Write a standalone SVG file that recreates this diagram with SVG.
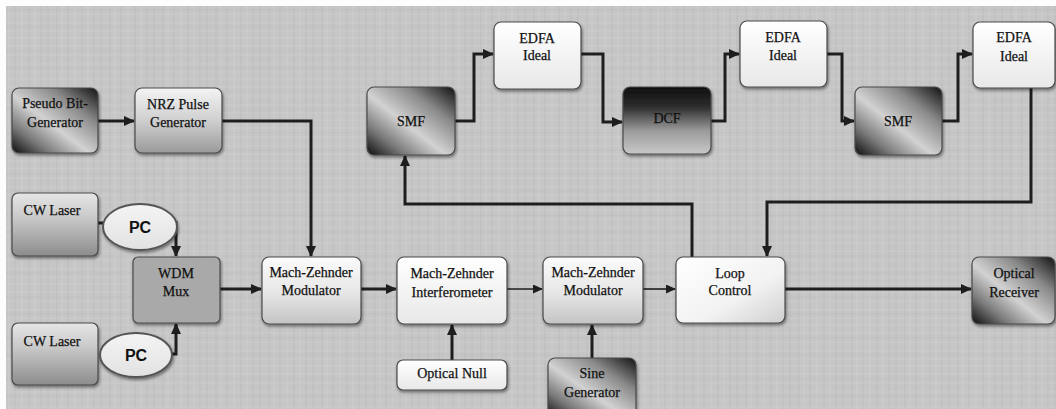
<svg xmlns="http://www.w3.org/2000/svg" width="1056" height="409" viewBox="0 0 1056 409">
<style>
.box{stroke:#4a4a4a;stroke-width:1.2}
.t{font-family:"Liberation Serif","DejaVu Serif","Times New Roman",serif;font-size:14px;fill:#111;stroke:#111;stroke-width:0.25;text-anchor:middle}
.pc{font-family:"Liberation Sans",Arial,sans-serif;font-size:16px;font-weight:bold;fill:#111;text-anchor:middle}
.c{fill:none;stroke:#1e1e1e;stroke-width:3;stroke-linejoin:miter}
.thin{stroke-width:1.6}
</style>
<defs>
<pattern id="tex" width="53" height="41" patternUnits="userSpaceOnUse">
<rect width="53" height="41" fill="#c6c6c6"/>
<path d="M4,0V41M15,0V41M29,0V41M41,0V41M48,0V41" stroke="#b6b6b6" stroke-width="1.2" opacity="0.55"/>
<path d="M9,0V41M22,0V41M35,0V41" stroke="#d2d2d2" stroke-width="1" opacity="0.6"/>
<path d="M0,5H53M0,14H53M0,23H53M0,31H53M0,38H53" stroke="#d0d0d0" stroke-width="1" opacity="0.55"/>
<path d="M0,10H53M0,27H53" stroke="#b8b8b8" stroke-width="1" opacity="0.4"/>
</pattern>
<linearGradient id="gDiag" x1="1" y1="0" x2="0" y2="1">
<stop offset="0" stop-color="#111"/><stop offset="0.28" stop-color="#8a8a8a"/><stop offset="0.55" stop-color="#d2d2d2"/><stop offset="0.78" stop-color="#7a7a7a"/><stop offset="1" stop-color="#0c0c0c"/>
</linearGradient>
<linearGradient id="gDCF" x1="0" y1="0" x2="0" y2="1">
<stop offset="0" stop-color="#0e0e0e"/><stop offset="0.3" stop-color="#2e2e2e"/><stop offset="0.65" stop-color="#9a9a9a"/><stop offset="1" stop-color="#c8c8c8"/>
</linearGradient>
<linearGradient id="gCW" x1="0" y1="0" x2="0" y2="1">
<stop offset="0" stop-color="#e6e6e6"/><stop offset="0.4" stop-color="#c8c8c8"/><stop offset="1" stop-color="#8c8c8c"/>
</linearGradient>
<linearGradient id="gNRZ" x1="0" y1="0" x2="0" y2="1">
<stop offset="0" stop-color="#f4f4f4"/><stop offset="0.5" stop-color="#cfcfcf"/><stop offset="1" stop-color="#9a9a9a"/>
</linearGradient>
<linearGradient id="gMZ" x1="0" y1="0" x2="0" y2="1">
<stop offset="0" stop-color="#fbfbfb"/><stop offset="0.55" stop-color="#e6e6e6"/><stop offset="1" stop-color="#c4c4c4"/>
</linearGradient>
<linearGradient id="gW" x1="0" y1="0" x2="0" y2="1">
<stop offset="0" stop-color="#ffffff"/><stop offset="1" stop-color="#e8e8e8"/>
</linearGradient>
<linearGradient id="gLoop" x1="0" y1="0" x2="1" y2="1">
<stop offset="0" stop-color="#ffffff"/><stop offset="0.6" stop-color="#f2f2f2"/><stop offset="1" stop-color="#cfcfcf"/>
</linearGradient>
<linearGradient id="gPC" x1="0" y1="0" x2="0" y2="1">
<stop offset="0" stop-color="#f4f4f4"/><stop offset="1" stop-color="#e2e2e2"/>
</linearGradient>
<filter id="sh" x="-10%" y="-10%" width="130%" height="140%">
<feDropShadow dx="1" dy="2" stdDeviation="1.5" flood-color="#000" flood-opacity="0.45"/>
</filter>
<marker id="ah" markerUnits="userSpaceOnUse" markerWidth="11" markerHeight="10" refX="10" refY="5" orient="auto">
<path d="M0,0L11,5L0,10z" fill="#1e1e1e"/>
</marker>
<marker id="ahs" markerUnits="userSpaceOnUse" markerWidth="10" markerHeight="9" refX="9" refY="4.5" orient="auto">
<path d="M0,0L10,4.5L0,9z" fill="#1e1e1e"/>
</marker>
</defs>
<rect width="1056" height="409" fill="url(#tex)"/>
<rect width="1056" height="6" fill="#fdfdfd"/>
<rect width="6" height="409" fill="#fdfdfd"/>

<g id="connectors">
<path class="c" d="M98,121H134" marker-end="url(#ah)"/>
<path class="c" d="M222,121H311V256" marker-end="url(#ah)"/>
<path class="c" d="M98,223H105"/>
<path class="c" d="M176,221V256" marker-end="url(#ah)"/>
<path class="c" d="M172,354H176V324" marker-end="url(#ah)"/>
<path class="c" d="M220,289H261" marker-end="url(#ah)"/>
<path class="c" d="M361,289H396" marker-end="url(#ah)"/>
<path class="c thin" d="M507,289H542" marker-end="url(#ahs)"/>
<path class="c" d="M452,360V325" marker-end="url(#ah)"/>
<path class="c" d="M592,358V325" marker-end="url(#ah)"/>
<path class="c thin" d="M643,289H675" marker-end="url(#ahs)"/>
<path class="c" d="M785,289H971" marker-end="url(#ah)"/>
<path class="c" d="M692,257V204H405V156" marker-end="url(#ah)"/>
<path class="c" d="M1031,88V202H767V256" marker-end="url(#ah)"/>
<path class="c" d="M455,121H474V54H493" marker-end="url(#ah)"/>
<path class="c" d="M581,54H603V122H622" marker-end="url(#ah)"/>
<path class="c" d="M711,121H725V54H739" marker-end="url(#ah)"/>
<path class="c" d="M827,54H842V121H854" marker-end="url(#ah)"/>
<path class="c" d="M942,121H958V54H972" marker-end="url(#ah)"/>
</g>

<g id="pseudo"><rect class="box" x="12" y="88" width="86" height="65" rx="7" fill="url(#gDiag)" filter="url(#sh)"/><text class="t" x="55" y="108">Pseudo Bit-</text><text class="t" x="55" y="127">Generator</text></g>
<g id="nrz"><rect class="box" x="135" y="88" width="87" height="65" rx="7" fill="url(#gNRZ)" filter="url(#sh)"/><text class="t" x="178" y="109">NRZ Pulse</text><text class="t" x="178" y="127">Generator</text></g>
<g id="cw1"><rect class="box" x="12" y="193" width="86" height="63" rx="6" fill="url(#gCW)" filter="url(#sh)"/><text class="t" x="52" y="215">CW Laser</text></g>
<g id="cw2"><rect class="box" x="12" y="323" width="86" height="62" rx="6" fill="url(#gCW)" filter="url(#sh)"/><text class="t" x="52" y="346">CW Laser</text></g>
<g id="pc1"><ellipse cx="140" cy="227" rx="37" ry="23" fill="url(#gPC)" stroke="#555" stroke-width="2" filter="url(#sh)"/><text class="pc" x="140" y="233">PC</text></g>
<g id="pc2"><ellipse cx="136" cy="355" rx="36" ry="22" fill="url(#gPC)" stroke="#555" stroke-width="2" filter="url(#sh)"/><text class="pc" x="136" y="361">PC</text></g>
<g id="wdm"><rect class="box" x="133" y="257" width="87" height="66" rx="5" fill="#a9a9a9" filter="url(#sh)"/><text class="t" x="176" y="278">WDM</text><text class="t" x="176" y="296">Mux</text></g>
<g id="mzm1"><rect class="box" x="262" y="257" width="99" height="67" rx="7" fill="url(#gMZ)" filter="url(#sh)"/><text class="t" x="311" y="277">Mach-Zehnder</text><text class="t" x="311" y="295">Modulator</text></g>
<g id="mzi"><rect class="box" x="397" y="257" width="110" height="67" rx="7" fill="url(#gW)" filter="url(#sh)"/><text class="t" x="452" y="278">Mach-Zehnder</text><text class="t" x="452" y="297">Interferometer</text></g>
<g id="null"><rect class="box" x="397" y="360" width="110" height="30" rx="6" fill="url(#gW)" filter="url(#sh)"/><text class="t" x="452" y="378">Optical Null</text></g>
<g id="mzm2"><rect class="box" x="543" y="257" width="100" height="67" rx="7" fill="url(#gMZ)" filter="url(#sh)"/><text class="t" x="593" y="277">Mach-Zehnder</text><text class="t" x="593" y="295">Modulator</text></g>
<g id="sine"><rect class="box" x="548" y="358" width="88" height="60" rx="7" fill="url(#gDiag)" filter="url(#sh)"/><text class="t" x="592" y="378">Sine</text><text class="t" x="592" y="397">Generator</text></g>
<g id="loop"><rect class="box" x="676" y="257" width="109" height="66" rx="7" fill="url(#gLoop)" filter="url(#sh)"/><text class="t" x="730" y="278">Loop</text><text class="t" x="730" y="295">Control</text></g>
<g id="rx"><rect class="box" x="972" y="257" width="83" height="67" rx="7" fill="url(#gDiag)" filter="url(#sh)"/><text class="t" x="1014" y="278">Optical</text><text class="t" x="1014" y="297">Receiver</text></g>
<g id="smf1"><rect class="box" x="367" y="87" width="88" height="68" rx="7" fill="url(#gDiag)" filter="url(#sh)"/><text class="t" x="411" y="126">SMF</text></g>
<g id="edfa1"><rect class="box" x="494" y="22" width="87" height="67" rx="7" fill="url(#gW)" filter="url(#sh)"/><text class="t" x="537" y="43">EDFA</text><text class="t" x="537" y="60">Ideal</text></g>
<g id="dcf"><rect class="box" x="623" y="87" width="88" height="67" rx="7" fill="url(#gDCF)" filter="url(#sh)"/><text class="t" x="667" y="123">DCF</text></g>
<g id="edfa2"><rect class="box" x="740" y="21" width="87" height="66" rx="7" fill="url(#gW)" filter="url(#sh)"/><text class="t" x="783" y="42">EDFA</text><text class="t" x="783" y="60">Ideal</text></g>
<g id="smf2"><rect class="box" x="855" y="87" width="87" height="68" rx="7" fill="url(#gDiag)" filter="url(#sh)"/><text class="t" x="898" y="126">SMF</text></g>
<g id="edfa3"><rect class="box" x="973" y="22" width="82" height="66" rx="7" fill="url(#gW)" filter="url(#sh)"/><text class="t" x="1014" y="42">EDFA</text><text class="t" x="1014" y="61">Ideal</text></g>
</svg>
